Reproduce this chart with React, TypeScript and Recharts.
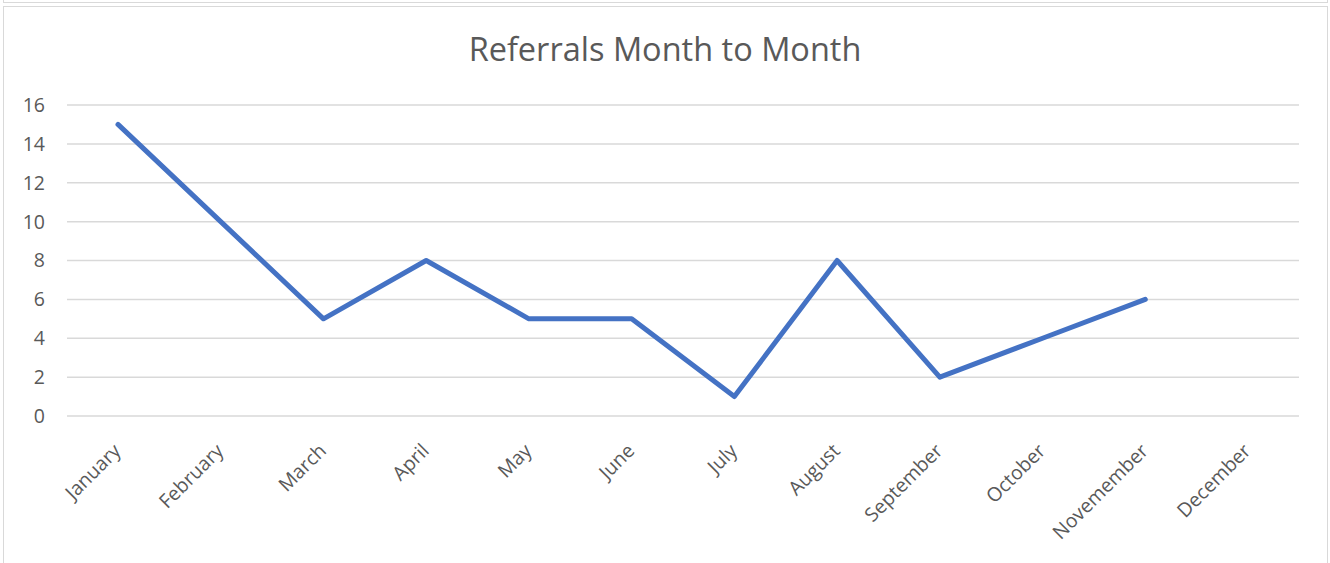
import { LineChart, Line, XAxis, YAxis, CartesianGrid } from "recharts";

const months = [
  "January",
  "February",
  "March",
  "April",
  "May",
  "June",
  "July",
  "August",
  "September",
  "October",
  "Novemember",
  "December",
];

const referrals: (number | null)[] = [15, 10, 5, 8, 5, 5, 1, 8, 2, 4, 6, null];

const yTicks = [0, 2, 4, 6, 8, 10, 12, 14, 16];

const data = months.map((month, i) => ({ month, referrals: referrals[i] }));

const textColor = "#595959";
const font = "'Open Sans', sans-serif";

const MonthTick = ({ x, y, payload }: any) => (
  <text
    x={x + 4}
    y={y + 28}
    transform={`rotate(-45, ${x + 4}, ${y + 28})`}
    textAnchor="end"
    fill={textColor}
    fontSize={19.5}
    fontFamily={font}
  >
    {payload.value}
  </text>
);

export default function App() {
  return (
    <div style={{ position: "absolute", left: 0, top: 0, width: 1330, height: 563, background: "#fff", overflow: "hidden" }}>
      <div style={{ position: "absolute", left: 3, top: -4, width: 1323, height: 5, border: "1px solid #d9d9d9" }} />
      <div style={{ position: "absolute", left: 3, top: 6, width: 1323, height: 570, border: "1px solid #d9d9d9" }} />
      <div
        style={{
          position: "absolute",
          left: 0,
          top: 26,
          width: 1330,
          textAlign: "center",
          fontFamily: font,
          fontSize: 32.5,
          color: textColor,
        }}
      >
        Referrals Month to Month
      </div>
      <div style={{ position: "absolute", left: 0, top: 0 }}>
        <LineChart width={1330} height={563} data={data} margin={{ top: 105, right: 31, bottom: 0, left: 7 }}>
          <CartesianGrid vertical={false} stroke="#d9d9d9" strokeWidth={1.5} />
          <XAxis
            dataKey="month"
            axisLine={false}
            tickLine={false}
            interval={0}
            height={147}
            padding={{ left: 51, right: 51 }}
            tick={<MonthTick />}
          />
          <YAxis
            domain={[0, 16]}
            ticks={yTicks}
            axisLine={false}
            tickLine={false}
            width={60}
            tickMargin={16}
            tick={{ fill: textColor, fontSize: 19.5, fontFamily: font }}
          />
          <Line
            type="linear"
            dataKey="referrals"
            stroke="#4472C4"
            strokeWidth={5}
            strokeLinecap="round"
            strokeLinejoin="round"
            dot={false}
            activeDot={false}
            isAnimationActive={false}
          />
        </LineChart>
      </div>
    </div>
  );
}
